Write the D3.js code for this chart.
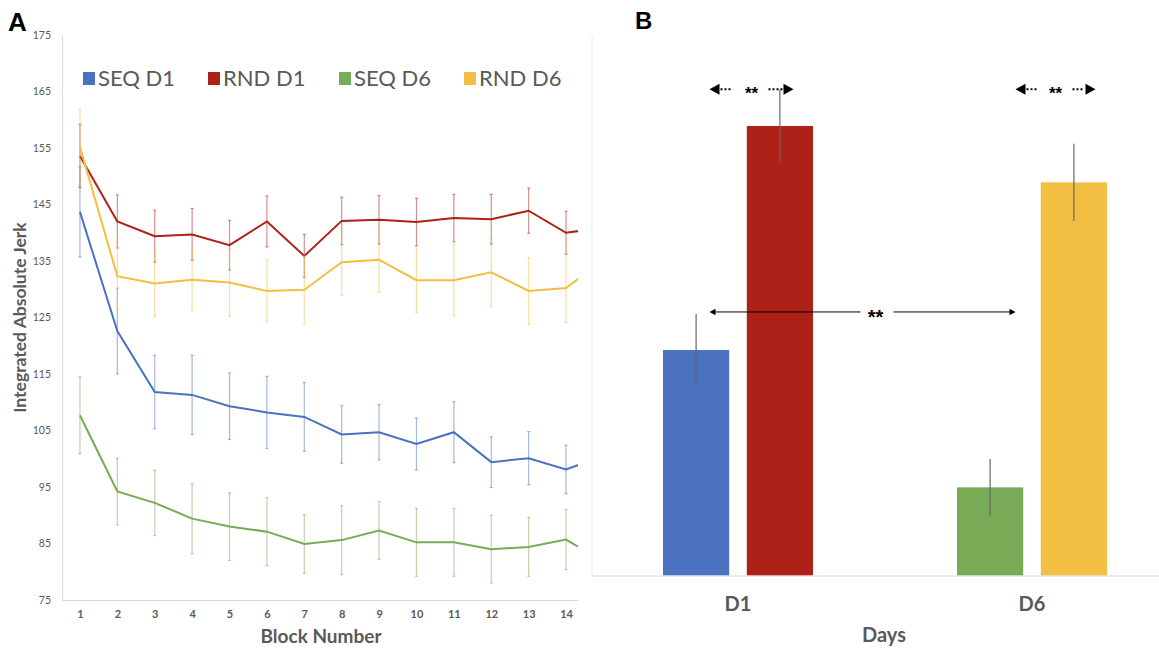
<!DOCTYPE html>
<html>
<head>
<meta charset="utf-8">
<script src="https://cdn.jsdelivr.net/npm/d3@7"></script>
<style>
    body { margin: 0; background: #fff; }
    svg { display: block; }
</style>
</head>
<body>
<div id="wrapper"></div>
<script>
// ---- data, panel A (block 15 is cut off at the plot edge) ----
const blocks = [1, 2, 3, 4, 5, 6, 7, 8, 9, 10, 11, 12, 13, 14, 15];
const blockTicks = [1, 2, 3, 4, 5, 6, 7, 8, 9, 10, 11, 12, 13, 14];
const jerkTicks = [75, 85, 95, 105, 115, 125, 135, 145, 155, 165, 175];

const seqD1 = [143.7, 122.6, 111.8, 111.3, 109.3, 108.2, 107.4, 104.3, 104.7, 102.6, 104.7, 99.4, 100.1, 98.1, 100.5];
const seqD1Err = [8.0, 7.6, 6.5, 7.0, 5.9, 6.4, 6.1, 5.1, 4.9, 4.6, 5.4, 4.5, 4.7, 4.3, 4.5];
const rndD1 = [153.6, 142.0, 139.4, 139.7, 137.8, 142.0, 135.9, 142.1, 142.3, 141.9, 142.6, 142.4, 143.9, 140.0, 140.9];
const rndD1Err = [5.6, 4.7, 4.6, 4.6, 4.4, 4.5, 3.8, 4.2, 4.3, 4.2, 4.2, 4.4, 4.0, 3.8, 4.0];
const seqD6 = [107.7, 94.2, 92.2, 89.4, 88.0, 87.1, 84.9, 85.6, 87.3, 85.2, 85.2, 84.0, 84.4, 85.7, 81.8];
const seqD6Err = [6.8, 5.9, 5.8, 6.2, 6.0, 6.0, 5.2, 6.1, 5.1, 6.0, 6.0, 6.0, 5.2, 5.3, 5.5];
const rndD6 = [155.2, 132.3, 131.0, 131.7, 131.2, 129.7, 129.9, 134.8, 135.2, 131.6, 131.6, 133.0, 129.7, 130.2, 135.2];
const rndD6Err = [6.7, 6.0, 5.9, 5.5, 6.0, 5.5, 6.0, 5.9, 5.8, 5.7, 6.3, 6.0, 5.9, 6.1, 6.0];

// ---- data, panel B ----
const days = ["D1", "D6"];
const conditions = ["SEQ", "RND"];
const dayMeans = [
    { day: "D1", cond: "SEQ", value: 110.7, err: 5.7 },
    { day: "D1", cond: "RND", value: 146.1, err: 5.8 },
    { day: "D6", cond: "SEQ", value: 89.0, err: 4.5 },
    { day: "D6", cond: "RND", value: 137.2, err: 6.1 },
];

const colors = {
    "SEQ D1": "#4a72c0",
    "RND D1": "#ad2119",
    "SEQ D6": "#79aa55",
    "RND D6": "#f3bf43",
};
const series = [
    { name: "SEQ D1", values: seqD1, errs: seqD1Err },
    { name: "RND D1", values: rndD1, errs: rndD1Err },
    { name: "SEQ D6", values: seqD6, errs: seqD6Err },
    { name: "RND D6", values: rndD6, errs: rndD6Err },
];

const textGray = "#595959";
const axisGray = "#d9d9d9";
const font = "Lato, 'Open Sans', sans-serif";
const starFont = "'Liberation Sans', Arial, sans-serif";

const width = 1159;
const height = 650;

const svg = d3.select("#wrapper")
    .append("svg")
    .attr("width", width)
    .attr("height", height)
    .style("font-family", font);

// ================= Panel A =================
const plotA = { left: 62, right: 578, top: 35, bottom: 600 };

const xScale = d3.scaleLinear()
    .domain([0.52, 14.32])
    .range([plotA.left, plotA.right]);

const yScale = d3.scaleLinear()
    .domain([75, 175])
    .range([plotA.bottom, plotA.top]);

svg.append("defs").append("clipPath")
    .attr("id", "clipA")
    .append("rect")
    .attr("x", plotA.left)
    .attr("y", plotA.top - 5)
    .attr("width", plotA.right - plotA.left)
    .attr("height", plotA.bottom - plotA.top + 10);

const yAxis = svg.append("g")
    .attr("transform", `translate(${plotA.left},0)`)
    .call(d3.axisLeft(yScale).tickValues(jerkTicks).tickSize(0).tickPadding(11));
yAxis.select(".domain").attr("stroke", axisGray);
yAxis.selectAll("text")
    .attr("fill", textGray)
    .style("font-size", "10.5px")
    .style("font-family", font);

const xAxis = svg.append("g")
    .attr("transform", `translate(0,${plotA.bottom})`)
    .call(d3.axisBottom(xScale).tickValues(blockTicks).tickSize(0).tickPadding(10));
xAxis.select(".domain").attr("stroke", axisGray);
xAxis.selectAll("text")
    .attr("fill", textGray)
    .style("font-size", "11px")
    .style("font-weight", "bold")
    .style("font-family", font);

const plotGroup = svg.append("g").attr("clip-path", "url(#clipA)");

const lineGenerator = d3.line()
    .x((d, i) => xScale(blocks[i]))
    .y(d => yScale(d));

series.forEach(s => {
    const g = plotGroup.append("g");
    const errs = g.selectAll(".err")
        .data(s.values)
        .join("g")
        .attr("stroke", colors[s.name])
        .attr("stroke-opacity", 0.5)
        .attr("stroke-width", 1.2);
    errs.append("line")
        .attr("x1", (d, i) => xScale(blocks[i]))
        .attr("x2", (d, i) => xScale(blocks[i]))
        .attr("y1", (d, i) => yScale(d + s.errs[i]))
        .attr("y2", (d, i) => yScale(d - s.errs[i]));
    [1, -1].forEach(sign => {
        errs.append("line")
            .attr("x1", (d, i) => xScale(blocks[i]) - 1.5)
            .attr("x2", (d, i) => xScale(blocks[i]) + 1.5)
            .attr("y1", (d, i) => yScale(d + sign * s.errs[i]))
            .attr("y2", (d, i) => yScale(d + sign * s.errs[i]));
    });
    g.append("path")
        .attr("d", lineGenerator(s.values))
        .attr("fill", "none")
        .attr("stroke", colors[s.name])
        .attr("stroke-width", 2);
});

// legend
const legendX = [83, 208, 339, 464];
const legend = svg.append("g");
series.forEach((s, i) => {
    legend.append("rect")
        .attr("x", legendX[i])
        .attr("y", 72)
        .attr("width", 12)
        .attr("height", 13)
        .attr("fill", colors[s.name]);
    legend.append("text")
        .attr("x", legendX[i] + 15)
        .attr("y", 86)
        .attr("fill", textGray)
        .style("font-size", "22px")
        .text(s.name);
});

svg.append("text")
    .attr("transform", `translate(26,${(plotA.top + plotA.bottom) / 2}) rotate(-90)`)
    .attr("text-anchor", "middle")
    .attr("fill", textGray)
    .style("font-size", "17.5px")
    .style("font-weight", "bold")
    .text("Integrated Absolute Jerk");

svg.append("text")
    .attr("x", 321)
    .attr("y", 643)
    .attr("text-anchor", "middle")
    .attr("fill", textGray)
    .style("font-size", "19px")
    .style("font-weight", "bold")
    .text("Block Number");

svg.append("text")
    .attr("x", 8)
    .attr("y", 31)
    .style("font-family", starFont)
    .style("font-size", "26px")
    .style("font-weight", "bold")
    .text("A");

// ================= Panel B =================
const plotB = { left: 592, right: 1159, top: 37, bottom: 576 };

const xGroup = d3.scaleBand()
    .domain(days)
    .range([591, 1179]);

const xCond = d3.scaleBand()
    .domain(conditions)
    .range([72, 222])
    .paddingInner(0.21);

const yScaleB = d3.scaleLinear()
    .domain([75, 160])
    .range([plotB.bottom, 38]);

const barColor = d => colors[`${d.cond} ${d.day}`];
const barX = d => xGroup(d.day) + xCond(d.cond);

svg.append("line")
    .attr("x1", plotB.left).attr("x2", plotB.left)
    .attr("y1", plotB.top).attr("y2", plotB.bottom)
    .attr("stroke", "#e6e6e6");

svg.append("g")
    .selectAll("rect")
    .data(dayMeans)
    .join("rect")
    .attr("x", barX)
    .attr("width", xCond.bandwidth())
    .attr("y", d => yScaleB(d.value))
    .attr("height", d => plotB.bottom - yScaleB(d.value))
    .attr("fill", barColor);

svg.append("line")
    .attr("x1", plotB.left).attr("x2", plotB.right)
    .attr("y1", plotB.bottom).attr("y2", plotB.bottom)
    .attr("stroke", "#e6e6e6")
    .attr("stroke-width", 1.5);

svg.append("g")
    .selectAll("line")
    .data(dayMeans)
    .join("line")
    .attr("x1", d => barX(d) + xCond.bandwidth() / 2)
    .attr("x2", d => barX(d) + xCond.bandwidth() / 2)
    .attr("y1", d => yScaleB(d.value + d.err))
    .attr("y2", d => yScaleB(d.value - d.err))
    .attr("stroke", "#666")
    .attr("stroke-width", 1.2);

const xAxisB = svg.append("g")
    .attr("transform", `translate(0,${plotB.bottom})`)
    .call(d3.axisBottom(xGroup).tickSize(0).tickPadding(21));
xAxisB.select(".domain").remove();
xAxisB.selectAll("text")
    .attr("fill", textGray)
    .style("font-size", "20px")
    .style("font-weight", "bold")
    .style("font-family", font);

svg.append("text")
    .attr("x", 884)
    .attr("y", 642)
    .attr("text-anchor", "middle")
    .attr("fill", textGray)
    .style("font-size", "20px")
    .style("font-weight", "bold")
    .text("Days");

svg.append("text")
    .attr("x", 635)
    .attr("y", 29)
    .style("font-family", starFont)
    .style("font-size", "24px")
    .style("font-weight", "bold")
    .text("B");

// significance markers
const sigDays = [
    { day: "D1", shift: 13.5, half: 42 },
    { day: "D6", shift: 23.5, half: 40 },
];
const sigY = yScaleB(dayMeans[1].value + dayMeans[1].err);
const sig = svg.append("g");

function arrowHead(g, tipX, y, dir, size) {
    g.append("path")
        .attr("d", `M${tipX},${y} L${tipX - dir * size},${y - size * 0.55} L${tipX - dir * size},${y + size * 0.55} Z`)
        .attr("fill", "#000");
}

function stars(g, x, y, size) {
    g.append("text")
        .attr("x", x)
        .attr("y", y + size * 0.58)
        .attr("text-anchor", "middle")
        .attr("fill", "#000")
        .style("font-family", starFont)
        .style("font-size", `${size}px`)
        .style("font-weight", "bold")
        .text("**");
}

const sigEnds = sigDays.map(s => {
    const cx = xGroup(s.day) + xGroup.bandwidth() / 2 + s.shift;
    const x0 = cx - s.half;
    const x1 = cx + s.half;
    arrowHead(sig, x0, sigY, -1, 10);
    arrowHead(sig, x1, sigY, 1, 10);
    [[x0 + 11, cx - 19], [cx + 17, x1 - 11]].forEach(([a, b]) => {
        sig.append("line")
            .attr("x1", a).attr("x2", b)
            .attr("y1", sigY).attr("y2", sigY)
            .attr("stroke", "#000")
            .attr("stroke-width", 2)
            .attr("stroke-dasharray", "2,2");
    });
    stars(sig, cx, sigY, 17);
    return x0;
});

const midY = yScaleB(dayMeans[0].value + dayMeans[0].err) - 2;
const midX = (sigEnds[0] + sigEnds[1]) / 2 + 12;
arrowHead(sig, sigEnds[0], midY, -1, 6);
arrowHead(sig, sigEnds[1], midY, 1, 6);
[[sigEnds[0] + 5, midX - 14], [midX + 19, sigEnds[1] - 5]].forEach(([a, b]) => {
    sig.append("line")
        .attr("x1", a).attr("x2", b)
        .attr("y1", midY).attr("y2", midY)
        .attr("stroke", "#000")
        .attr("stroke-width", 1);
});
stars(sig, midX + 1, midY, 20);
</script>
</body>
</html>
